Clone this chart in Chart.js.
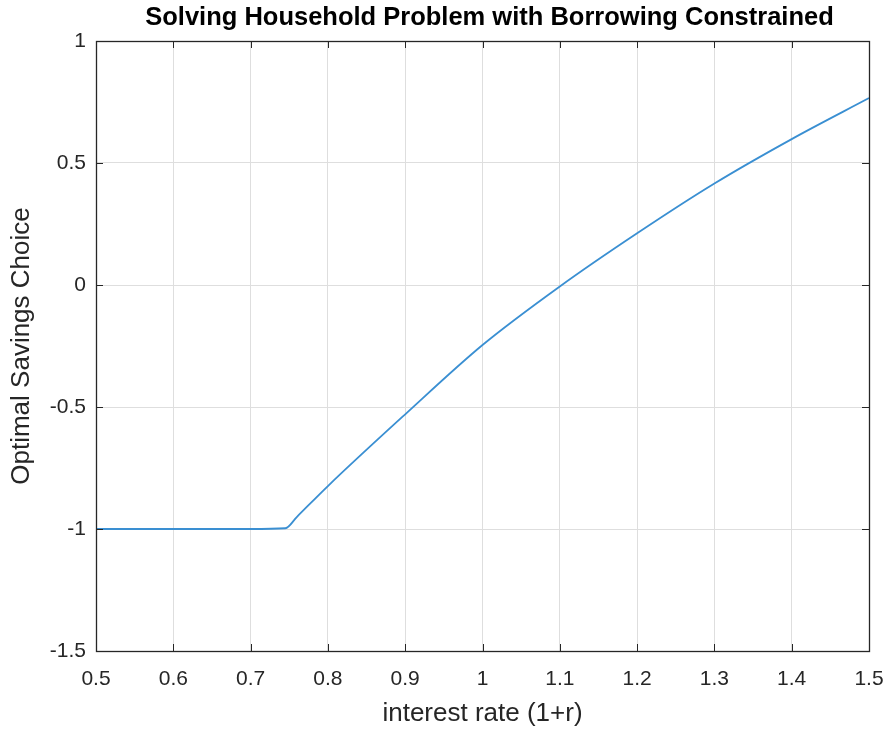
<!DOCTYPE html>
<html>
<head>
<meta charset="utf-8">
<title>Solving Household Problem with Borrowing Constrained</title>
<script src="https://cdn.jsdelivr.net/npm/chart.js@4/dist/chart.umd.min.js"></script>
<style>
  html, body { margin: 0; padding: 0; background: #ffffff; }
  #wrap { width: 891px; height: 729px; position: relative; }
</style>
</head>
<body>
<div id="wrap"><canvas id="chart" width="891" height="729"></canvas></div>
<script>
// Gross interest rate (1+r) and the household's optimal savings choice
const interestRate = [0.5, 0.6, 0.7, 0.745, 0.76, 0.8, 0.9, 1.0, 1.1, 1.2, 1.3, 1.4, 1.5];
const optimalSavings = [-1, -1, -1, -0.997, -0.95, -0.824, -0.53, -0.246, -0.006, 0.212, 0.416, 0.598, 0.766];

// Axis ticks and their labels
const xTickValues = [0.5, 0.6, 0.7, 0.8, 0.9, 1.0, 1.1, 1.2, 1.3, 1.4, 1.5];
const xTickLabels = ['0.5', '0.6', '0.7', '0.8', '0.9', '1', '1.1', '1.2', '1.3', '1.4', '1.5'];
const yTickValues = [-1.5, -1, -0.5, 0, 0.5, 1];
const yTickLabels = ['-1.5', '-1', '-0.5', '0', '0.5', '1'];

const TITLE = 'Solving Household Problem with Borrowing Constrained';
const INK = '#262626';
const FONT = "'Liberation Sans', Arial, Helvetica, sans-serif";

// Title centred above the axes
const axesTitle = {
  id: 'axesTitle',
  afterDraw(chart) {
    const { ctx, chartArea: a } = chart;
    ctx.save();
    ctx.fillStyle = '#000000';
    ctx.font = 'bold 25.5px ' + FONT;
    ctx.textAlign = 'center';
    ctx.textBaseline = 'middle';
    ctx.fillText(TITLE, (a.left + a.right) / 2 + 7, a.top - 23);
    ctx.restore();
  }
};

// Box around the axes with inward tick marks on all four sides
const axesBox = {
  id: 'axesBox',
  afterDatasetsDraw(chart) {
    const { ctx, chartArea: a, scales } = chart;
    const len = 7;
    ctx.save();
    ctx.strokeStyle = INK;
    ctx.lineWidth = 1;
    ctx.beginPath();
    scales.x.ticks.forEach(t => {
      const px = Math.round(scales.x.getPixelForValue(t.value)) + 0.5;
      ctx.moveTo(px, a.bottom); ctx.lineTo(px, a.bottom - len);
      ctx.moveTo(px, a.top); ctx.lineTo(px, a.top + len);
    });
    scales.y.ticks.forEach(t => {
      const py = Math.round(scales.y.getPixelForValue(t.value)) + 0.5;
      ctx.moveTo(a.left, py); ctx.lineTo(a.left + len, py);
      ctx.moveTo(a.right, py); ctx.lineTo(a.right - len, py);
    });
    ctx.stroke();
    ctx.lineWidth = 1.3;
    ctx.strokeRect(Math.round(a.left) + 0.5, Math.round(a.top) + 0.5,
                   Math.round(a.right - a.left), Math.round(a.bottom - a.top));
    ctx.restore();
  }
};

new Chart(document.getElementById('chart'), {
  type: 'line',
  data: {
    datasets: [{
      data: interestRate.map((x, i) => ({ x, y: optimalSavings[i] })),
      borderColor: '#3a8fd2',
      borderWidth: 1.8,
      pointRadius: 0,
      cubicInterpolationMode: 'monotone',
      fill: false
    }]
  },
  options: {
    responsive: false,
    animation: false,
    events: [],
    layout: { padding: { left: 0, right: 22, top: 41, bottom: 0 } },
    plugins: {
      legend: { display: false },
      tooltip: { enabled: false },
      title: { display: false }
    },
    scales: {
      x: {
        type: 'linear',
        min: 0.5,
        max: 1.5,
        afterBuildTicks: s => { s.ticks = xTickValues.map(v => ({ value: v })); },
        afterFit: s => { s.height = 78; s.paddingLeft = 0; s.paddingRight = 0; },
        ticks: {
          color: INK,
          font: { family: FONT, size: 21 },
          padding: 16,
          maxRotation: 0,
          autoSkip: false,
          callback: (v, i) => xTickLabels[i]
        },
        grid: { color: '#dedede', lineWidth: 1, drawTicks: false },
        border: { display: false },
        title: {
          display: true,
          text: 'interest rate (1+r)',
          color: INK,
          font: { family: FONT, size: 26 },
          padding: { top: 2, bottom: 0 }
        }
      },
      y: {
        type: 'linear',
        min: -1.5,
        max: 1,
        afterBuildTicks: s => { s.ticks = yTickValues.map(v => ({ value: v })); },
        afterFit: s => { s.width = 96; s.paddingTop = 0; s.paddingBottom = 0; },
        ticks: {
          color: INK,
          font: { family: FONT, size: 21 },
          padding: 10,
          autoSkip: false,
          callback: (v, i) => yTickLabels[i]
        },
        grid: { color: '#dedede', lineWidth: 1, drawTicks: false },
        border: { display: false },
        title: {
          display: true,
          text: 'Optimal Savings Choice',
          color: INK,
          font: { family: FONT, size: 26 },
          padding: { top: 6, bottom: 0 }
        }
      }
    }
  },
  plugins: [axesBox, axesTitle]
});
</script>
</body>
</html>
